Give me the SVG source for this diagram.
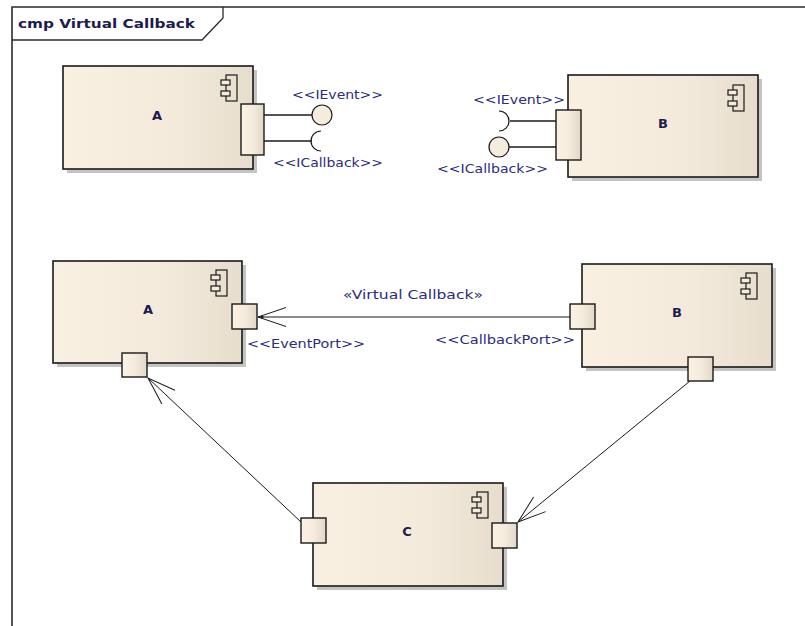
<svg xmlns="http://www.w3.org/2000/svg" width="805" height="626" viewBox="0 0 805 626">
<defs>
<linearGradient id="gBox" x1="0" y1="0" x2="1" y2="0">
<stop offset="0" stop-color="#f9f0e1"/>
<stop offset="0.6" stop-color="#f4eadb"/>
<stop offset="1" stop-color="#e7ddcd"/>
</linearGradient>
<linearGradient id="gPort" x1="0" y1="0" x2="1" y2="0">
<stop offset="0" stop-color="#faf2e4"/>
<stop offset="0.5" stop-color="#f6ecdd"/>
<stop offset="1" stop-color="#e2d8c8"/>
</linearGradient>
<marker id="arr" markerUnits="userSpaceOnUse" viewBox="-32 -12 34 24" markerWidth="34" markerHeight="24" refX="0" refY="0" orient="auto" overflow="visible">
<path d="M -28 -9.5 L 0 0 L -28 9.5" fill="none" stroke="#1a1a1a" stroke-width="1"/>
</marker>
<g id="icon">
<rect x="5" y="0" width="11" height="26" fill="none" stroke="#1a1a1a" stroke-width="1.2"/>
<rect x="0" y="5" width="9" height="5" fill="#f6ecdd" stroke="#1a1a1a" stroke-width="1.2"/>
<rect x="0" y="16" width="9" height="5" fill="#f6ecdd" stroke="#1a1a1a" stroke-width="1.2"/>
</g>
</defs>
<style>
.box{fill:url(#gBox);stroke:#1a1a1a;stroke-width:1.6}
.shadow{fill:#c4c4c4}
.port{fill:url(#gPort);stroke:#1a1a1a;stroke-width:1.4}
.name{font-family:"DejaVu Sans","Liberation Sans",Arial,sans-serif;font-size:13px;font-weight:bold;fill:#1c1c4e;text-anchor:middle}
.st{font-family:"DejaVu Sans","Liberation Sans",Arial,sans-serif;font-size:12px;fill:#2b2b80}
.ln{fill:none;stroke:#1a1a1a;stroke-width:1.3}
.conn{fill:none;stroke:#1a1a1a;stroke-width:1}
</style>
<rect width="805" height="626" fill="#ffffff"/>
<g id="frame">
<path d="M 12 626 L 12 7 L 805 7" fill="none" stroke="#2a2a2a" stroke-width="1.6"/>
<path d="M 12 40 L 202 40 L 223 18 L 223 7" fill="none" stroke="#2a2a2a" stroke-width="1.3"/>
<text x="18" y="28" font-family="DejaVu Sans,Liberation Sans,Arial,sans-serif" font-size="12.5" font-weight="bold" fill="#1c1c4e" textLength="177" lengthAdjust="spacingAndGlyphs">cmp Virtual Callback</text>
</g>
<g id="A1">
<rect class="shadow" x="67" y="70" width="190" height="103"/>
<rect class="box" x="63" y="66" width="190" height="103"/>
<use href="#icon" x="221" y="75"/>
<text class="name" x="157" y="120">A</text>
<line class="ln" x1="264" y1="115" x2="312" y2="115"/>
<line class="ln" x1="264" y1="141" x2="312" y2="141"/>
<circle cx="322" cy="115" r="10" fill="#f6ecdd" stroke="#1a1a1a" stroke-width="1.2"/>
<path d="M 321 131 A 10 10 0 0 0 321 151" fill="none" stroke="#1a1a1a" stroke-width="1.2"/>
<rect class="port" x="241" y="104" width="23" height="51"/>
<text class="st" x="292" y="99" textLength="91" lengthAdjust="spacingAndGlyphs">&lt;&lt;IEvent&gt;&gt;</text>
<text class="st" x="273" y="167" textLength="110" lengthAdjust="spacingAndGlyphs">&lt;&lt;ICallback&gt;&gt;</text>
</g>
<g id="B1">
<rect class="shadow" x="572" y="79" width="190" height="102"/>
<rect class="box" x="568" y="75" width="190" height="102"/>
<use href="#icon" x="728" y="85"/>
<text class="name" x="663" y="128">B</text>
<line class="ln" x1="510" y1="121" x2="556" y2="121"/>
<line class="ln" x1="509" y1="147" x2="556" y2="147"/>
<path d="M 499 111 A 10 10 0 0 1 499 131" fill="none" stroke="#1a1a1a" stroke-width="1.2"/>
<circle cx="499" cy="147" r="10" fill="#f6ecdd" stroke="#1a1a1a" stroke-width="1.2"/>
<rect class="port" x="556" y="110" width="25" height="50"/>
<text class="st" x="473" y="104" textLength="92" lengthAdjust="spacingAndGlyphs">&lt;&lt;IEvent&gt;&gt;</text>
<text class="st" x="437" y="173" textLength="111" lengthAdjust="spacingAndGlyphs">&lt;&lt;ICallback&gt;&gt;</text>
</g>
<g id="A2">
<rect class="shadow" x="57" y="265" width="189" height="102"/>
<rect class="box" x="53" y="261" width="189" height="102"/>
<use href="#icon" x="211" y="270"/>
<text class="name" x="148" y="314">A</text>
<rect class="port" x="232" y="304" width="25" height="25"/>
<rect class="port" x="122" y="353" width="25" height="24"/>
<text class="st" x="247" y="348" textLength="118" lengthAdjust="spacingAndGlyphs">&lt;&lt;EventPort&gt;&gt;</text>
</g>
<g id="B2">
<rect class="shadow" x="586" y="268" width="190" height="103"/>
<rect class="box" x="582" y="264" width="190" height="103"/>
<use href="#icon" x="741" y="273"/>
<text class="name" x="677" y="317">B</text>
<rect class="port" x="570" y="304" width="25" height="25"/>
<rect class="port" x="688" y="357" width="25" height="24"/>
<text class="st" x="435" y="344" textLength="140" lengthAdjust="spacingAndGlyphs">&lt;&lt;CallbackPort&gt;&gt;</text>
</g>
<g id="C">
<rect class="shadow" x="317" y="487" width="190" height="103"/>
<rect class="box" x="313" y="483" width="190" height="103"/>
<use href="#icon" x="472" y="492"/>
<text class="name" x="407" y="536">C</text>
<rect class="port" x="301" y="518" width="25" height="25"/>
<rect class="port" x="492" y="523" width="25" height="25"/>
</g>
<g id="connectors">
<line class="conn" x1="570" y1="317" x2="258" y2="317" marker-end="url(#arr)"/>
<circle cx="262" cy="317" r="1.5" fill="#1a1a1a"/>
<text class="st" x="343" y="299" textLength="140" lengthAdjust="spacingAndGlyphs">«Virtual Callback»</text>
<line class="conn" x1="301" y1="522" x2="148" y2="378" marker-end="url(#arr)"/>
<line class="conn" x1="690" y1="381" x2="518" y2="522" marker-end="url(#arr)"/>
</g>
</svg>
